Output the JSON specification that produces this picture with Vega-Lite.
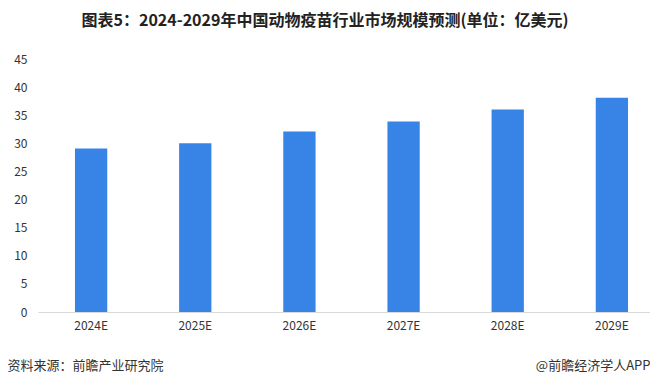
{
  "$schema": "https://vega.github.io/schema/vega-lite/v6.json",
  "autosize": "none",
  "width": 612,
  "height": 253,
  "padding": {"left": 38, "top": 59, "right": 0, "bottom": 73},
  "background": "white",
  "config": {"view": {"stroke": null}, "font": "Noto Sans CJK SC"},
  "title": {
    "text": "图表5：2024-2029年中国动物疫苗行业市场规模预测(单位：亿美元)",
    "fontSize": 16,
    "fontWeight": "bold",
    "color": "#222222",
    "anchor": "middle",
    "dx": -19,
    "offset": 24,
    "font": "Noto Sans CJK SC"
  },
  "data": {
    "values": [
      {"year": "2024E", "value": 29.1},
      {"year": "2025E", "value": 30.0},
      {"year": "2026E", "value": 32.1},
      {"year": "2027E", "value": 33.9},
      {"year": "2028E", "value": 36.0},
      {"year": "2029E", "value": 38.1}
    ]
  },
  "mark": {"type": "bar", "color": "#3784e6"},
  "encoding": {
    "x": {
      "field": "year",
      "type": "nominal",
      "sort": null,
      "scale": {"range": [0, 627], "paddingInner": 0.69, "paddingOuter": 0.355},
      "axis": {
        "title": "资料来源：前瞻产业研究院",
        "titleAnchor": "start",
        "titleAlign": "left",
        "titleX": -31,
        "titleY": 53,
        "titleBaseline": "middle",
        "titleFontSize": 13,
        "titleFontWeight": "normal",
        "titleColor": "#333333",
        "labelAngle": 0,
        "labelFontSize": 12,
        "labelColor": "#333333",
        "labelPadding": 8,
        "ticks": false,
        "domainColor": "#d9d9d9",
        "domainWidth": 1
      }
    },
    "y": {
      "field": "value",
      "type": "quantitative",
      "scale": {"domain": [0, 45]},
      "axis": {
        "values": [0, 5, 10, 15, 20, 25, 30, 35, 40, 45],
        "title": "@前瞻经济学人APP",
        "titleAngle": 0,
        "titleX": 612,
        "titleY": 306,
        "titleAlign": "right",
        "titleBaseline": "middle",
        "titleFontSize": 13,
        "titleFontWeight": "normal",
        "titleColor": "#333333",
        "grid": false,
        "domain": false,
        "ticks": false,
        "labelFontSize": 12,
        "labelColor": "#333333",
        "labelPadding": 11
      }
    }
  }
}
